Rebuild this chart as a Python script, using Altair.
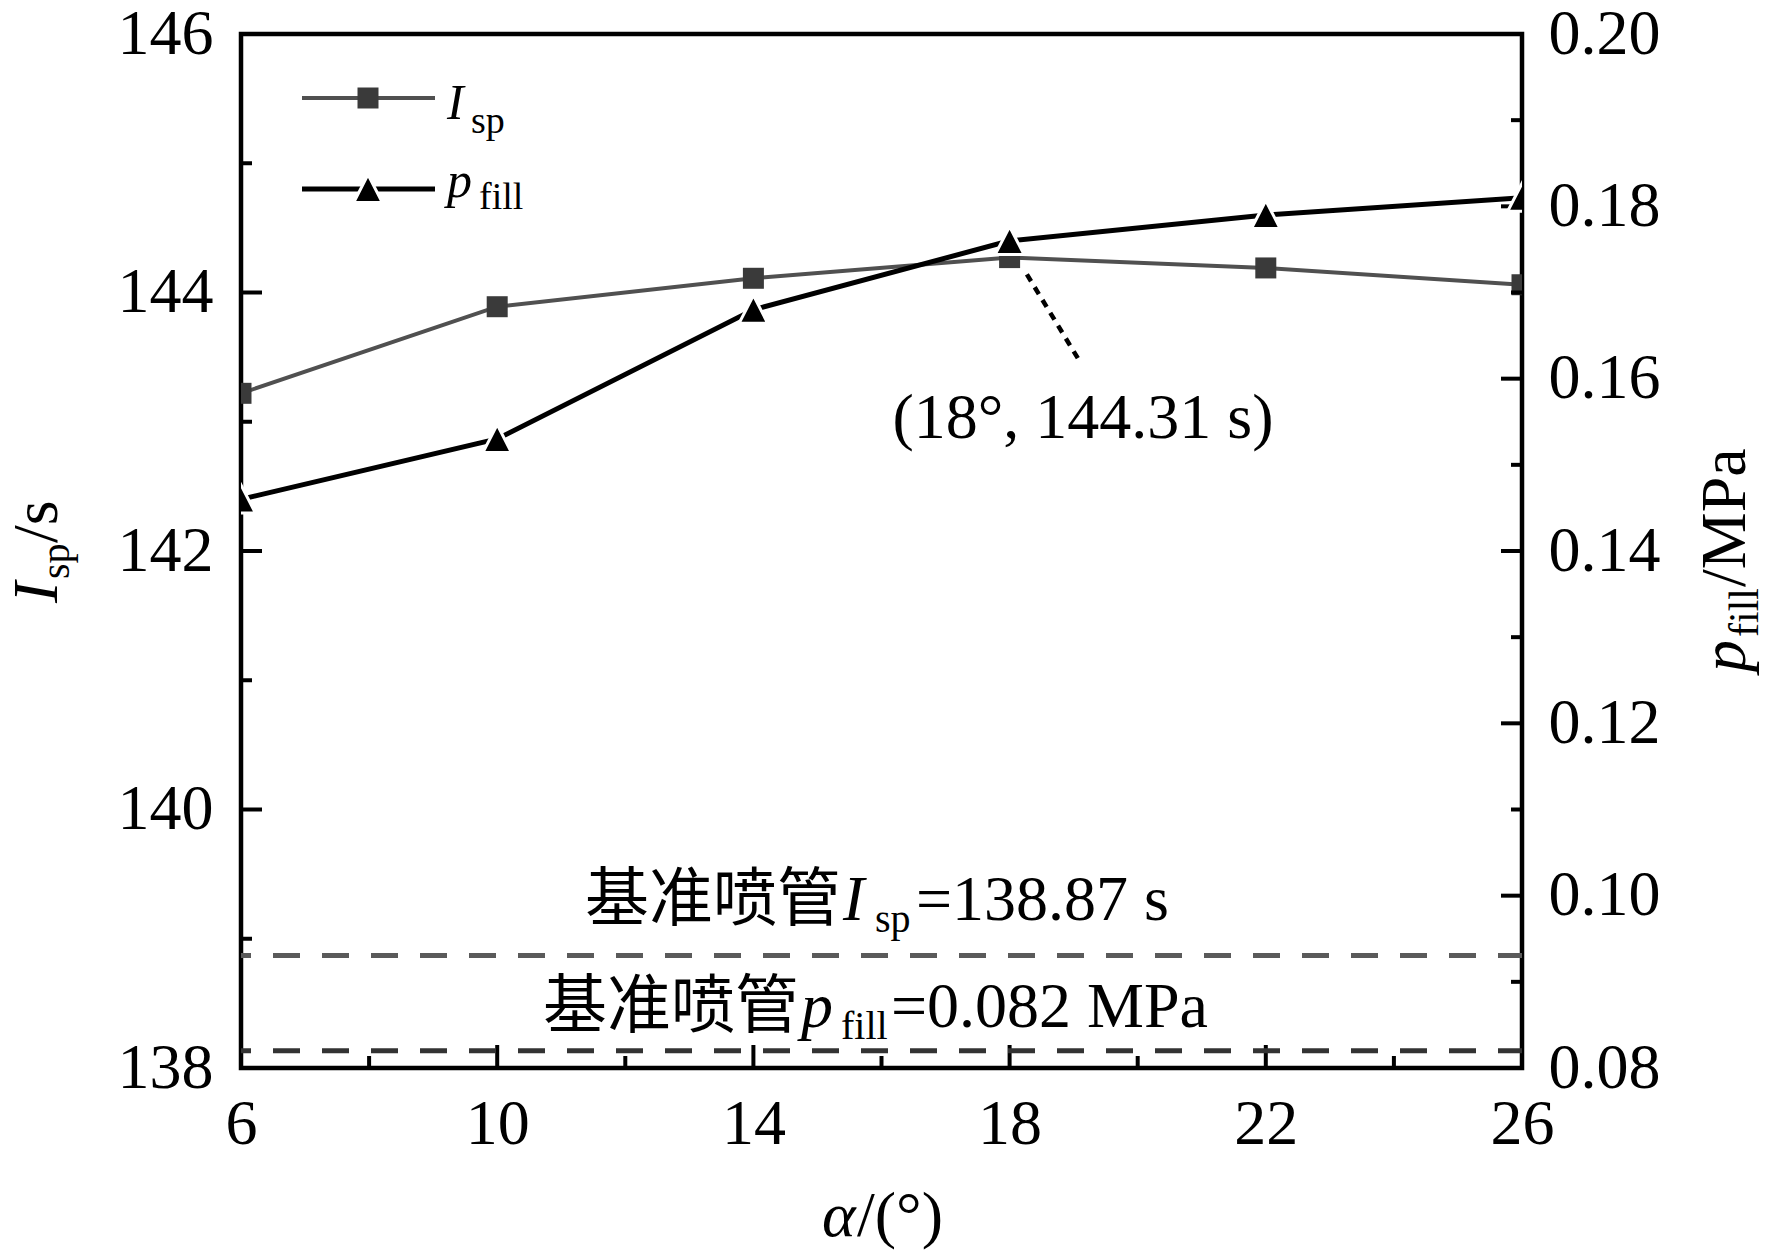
import altair as alt
import pandas as pd

# ---------------- data ----------------
alpha = [6, 10, 14, 18, 22, 26]
isp = [143.22, 143.89, 144.11, 144.27, 144.19, 144.06]
pfill = [0.146, 0.153, 0.168, 0.176, 0.179, 0.181]
isp_ref = [138.87]
pfill_ref = [0.082]
x_major = [6, 10, 14, 18, 22, 26]
x_minor = [8, 12, 16, 20, 24]
isp_major = [138, 140, 142, 144, 146]
isp_minor = [139, 141, 143, 145]
p_major = [0.08, 0.10, 0.12, 0.14, 0.16, 0.18, 0.20]
p_minor = [0.09, 0.11, 0.13, 0.15, 0.17, 0.19]
callout_alpha = [18.27, 19.08]
callout_isp = [144.14, 143.48]

W, H = 1281, 1034
SERIF = "Liberation Serif"
CJK = "Noto Sans CJK SC"
ISP_COLOR = "#505050"
ISP_MARK = "#3a3a3a"
TRI = "M0,-1L1,0.95L-1,0.95Z"

df = pd.DataFrame({"alpha": alpha, "isp": isp, "pfill": pfill})
dummy = pd.DataFrame({"d": [0]})

xs = alt.Scale(domain=[6, 26], nice=False, zero=False)
ysl = alt.Scale(domain=[138, 146], nice=False, zero=False)
ysr = alt.Scale(domain=[0.08, 0.20], nice=False, zero=False)

ax_x = alt.Axis(orient="bottom", values=x_major, ticks=False, tickSize=0, domain=False,
                grid=False, labelFont=SERIF, labelFontSize=64, labelColor="black",
                labelPadding=24, labelFlush=False, labelOverlap=False, title=None)
ax_l = alt.Axis(orient="left", values=isp_major, ticks=False, tickSize=0, domain=False,
                grid=False, labelFont=SERIF, labelFontSize=64, labelColor="black",
                labelPadding=28, labelFlush=False, labelOverlap=False, title=None, format="d")
ax_r = alt.Axis(orient="right", values=p_major, ticks=False, tickSize=0, domain=False,
                grid=False, labelFont=SERIF, labelFontSize=64, labelColor="black",
                labelPadding=26, labelFlush=False, labelOverlap=False, title=None, format=".2f")


def X(f):
    return alt.X(f, scale=xs, axis=ax_x)


def YL(f):
    return alt.Y(f, scale=ysl, axis=ax_l)


def YR(f):
    return alt.Y(f, scale=ysr, axis=ax_r)


# ---------------- left (Isp) group ----------------
isp_line = alt.Chart(df).mark_line(color=ISP_COLOR, strokeWidth=4, clip=True).encode(
    x=X("alpha:Q"), y=YL("isp:Q"))
isp_pts = alt.Chart(df).mark_point(shape="square", filled=True, size=441, color=ISP_MARK,
                                   opacity=1, clip=True).encode(x=X("alpha:Q"), y=YL("isp:Q"))
isp_base = alt.Chart(pd.DataFrame({"v": isp_ref})).mark_rule(
    color="#5a5a5a", strokeWidth=5, strokeDash=[27, 22], strokeDashOffset=3).encode(y=YL("v:Q"))
callout = alt.Chart(pd.DataFrame({"a1": [callout_alpha[0]], "a2": [callout_alpha[1]],
                                  "i1": [callout_isp[0]], "i2": [callout_isp[1]]})).mark_rule(
    color="black", strokeWidth=4.5, strokeDash=[8, 7]).encode(
    x=X("a1:Q"), x2="a2:Q", y=YL("i1:Q"), y2="i2:Q")
lt_major = alt.Chart(pd.DataFrame({"v": isp_major})).mark_rule(color="black", strokeWidth=4).encode(
    y=YL("v:Q"), x=alt.value(0), x2=alt.value(21))
lt_minor = alt.Chart(pd.DataFrame({"v": isp_minor})).mark_rule(color="black", strokeWidth=4).encode(
    y=YL("v:Q"), x=alt.value(0), x2=alt.value(11))
bt_major = alt.Chart(pd.DataFrame({"v": x_major})).mark_rule(color="black", strokeWidth=4).encode(
    x=X("v:Q"), y=alt.value(H), y2=alt.value(H - 23))
bt_minor = alt.Chart(pd.DataFrame({"v": x_minor})).mark_rule(color="black", strokeWidth=4).encode(
    x=X("v:Q"), y=alt.value(H), y2=alt.value(H - 12))

left = alt.layer(isp_base, lt_major, lt_minor, bt_major, bt_minor, callout, isp_line, isp_pts)

# ---------------- right (p_fill) group ----------------
p_line = alt.Chart(df).mark_line(color="black", strokeWidth=5, clip=True).encode(
    x=X("alpha:Q"), y=YR("pfill:Q"))
p_pts = alt.Chart(df).mark_point(shape=TRI, filled=True, size=820, fill="black", stroke="white",
                                 strokeWidth=3, opacity=1, clip=True).encode(
    x=X("alpha:Q"), y=YR("pfill:Q"))
p_base = alt.Chart(pd.DataFrame({"v": pfill_ref})).mark_rule(
    color="#333333", strokeWidth=5, strokeDash=[27, 22], strokeDashOffset=3).encode(y=YR("v:Q"))
rt_major = alt.Chart(pd.DataFrame({"v": p_major})).mark_rule(color="black", strokeWidth=4).encode(
    y=YR("v:Q"), x=alt.value(W), x2=alt.value(W - 21))
rt_minor = alt.Chart(pd.DataFrame({"v": p_minor})).mark_rule(color="black", strokeWidth=4).encode(
    y=YR("v:Q"), x=alt.value(W), x2=alt.value(W - 11))

right = alt.layer(p_base, rt_major, rt_minor, p_line, p_pts)


# ---------------- text pieces ----------------
def seg(text, x, y, size, font=SERIF, style="normal", angle=0, align="left"):
    return alt.Chart(dummy).mark_text(text=text, font=font, fontSize=size, fontStyle=style,
                                      angle=angle, align=align, baseline="alphabetic",
                                      color="black").encode(x=alt.value(x), y=alt.value(y))


texts = [
    # legend
    alt.Chart(dummy).mark_rule(color=ISP_COLOR, strokeWidth=4).encode(
        x=alt.value(61), x2=alt.value(194), y=alt.value(64)),
    alt.Chart(dummy).mark_point(shape="square", filled=True, size=441, color=ISP_MARK, opacity=1).encode(
        x=alt.value(127), y=alt.value(64)),
    alt.Chart(dummy).mark_rule(color="black", strokeWidth=5).encode(
        x=alt.value(61), x2=alt.value(194), y=alt.value(155)),
    alt.Chart(dummy).mark_point(shape=TRI, filled=True, size=820, fill="black", stroke="white",
                                strokeWidth=3, opacity=1).encode(x=alt.value(127), y=alt.value(155)),
    seg("I", 206, 85, 50, style="italic"),
    seg("sp", 230, 99, 38),
    seg("p", 206, 163, 50, style="italic"),
    seg("fill", 238, 175, 38),
    # callout
    seg("(18°, 144.31 s)", 842, 404, 64, align="center"),
    # baseline Isp
    seg("基准喷管", 344, 886, 64, font=CJK),
    seg("I", 602, 886, 64, style="italic"),
    seg("sp", 634, 898, 40),
    seg("=138.87 s", 675, 886, 64),
    # baseline p_fill
    seg("基准喷管", 302, 993, 64, font=CJK),
    seg("p", 560, 993, 64, style="italic"),
    seg("fill", 600, 1005, 40),
    seg("=0.082 MPa", 650, 993, 64),
    # left axis title (rotated)
    seg("I", -184, 569, 64, style="italic", angle=270),
    seg("sp", -172, 545, 40, angle=270),
    seg("/s", -184, 509, 64, angle=270),
    # right axis title (rotated)
    seg("p", 1504, 638, 64, style="italic", angle=270),
    seg("fill", 1517, 603, 42, angle=270),
    seg("/MPa", 1504, 553, 64, angle=270),
    # x axis title
    seg("α", 581, 1202, 64, style="italic"),
    seg("/(°)", 616, 1202, 64),
]

chart = alt.layer(left, right, *texts).resolve_scale(y="independent").properties(
    width=W, height=H,
    autosize=alt.AutoSizeParams(type="none"),
    padding={"left": 233, "top": 26, "right": 238, "bottom": 182},
    background="white",
).configure_view(stroke="black", strokeWidth=4.5)

chart.save("out.html", embed_options={"renderer": "svg", "actions": False})
